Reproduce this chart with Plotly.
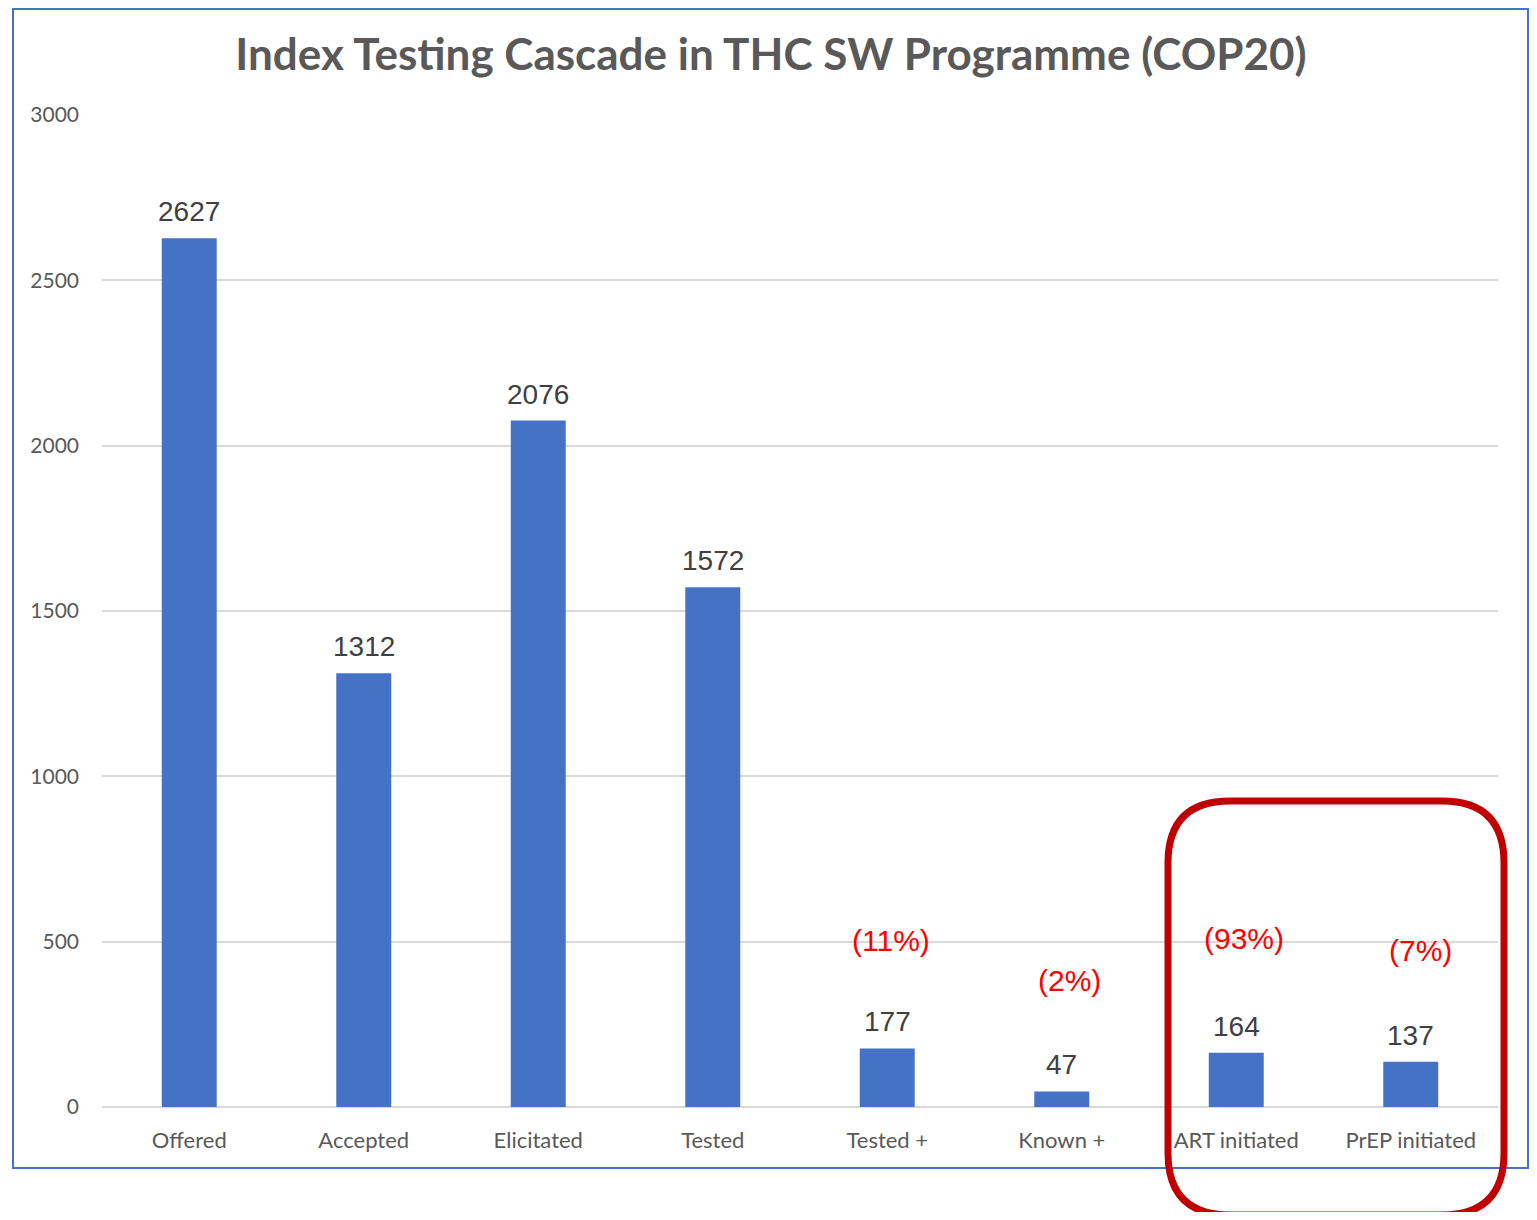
import plotly.graph_objects as go

categories = ["Offered", "Accepted", "Elicitated", "Tested", "Tested +", "Known +", "ART initiated", "PrEP initiated"]
values = [2627, 1312, 2076, 1572, 177, 47, 164, 137]
pct_categories = ["Tested +", "Known +", "ART initiated", "PrEP initiated"]
pct_labels = ["(11%)", "(2%)", "(93%)", "(7%)"]
pct_label_y = [505, 384, 511, 472]
pct_xshift = [4, 8, 8, 10]
y_ticks = [0, 500, 1000, 1500, 2000, 2500, 3000]

OFF = 8  # page body margin
W, H = 1537 - 2 * OFF, 1220 - 2 * OFF
L, R, T, B = 102, 1498, 115, 1107  # plot area in page pixels


def px(x):
    return (x - L) / (R - L)


def py(y):
    return (B - y) / (B - T)


fig = go.Figure()
fig.add_trace(go.Bar(
    x=categories, y=values, marker=dict(color="#4472C4", line=dict(width=0)),
    width=0.315, hoverinfo="x+y",
))

annotations = []
for c, v in zip(categories, values):
    annotations.append(dict(
        x=c, y=v, xref="x", yref="y", text=str(v), showarrow=False,
        yanchor="bottom", yshift=9,
        font=dict(family="Liberation Sans, Arial", size=28, color="#404040"),
    ))
for c, t, y, xs in zip(pct_categories, pct_labels, pct_label_y, pct_xshift):
    annotations.append(dict(
        x=c, y=y, xref="x", yref="y", text=t, showarrow=False,
        yanchor="middle", xshift=xs,
        font=dict(family="Liberation Sans, Arial", size=30, color="#FF0000"),
    ))

# rounded highlight rectangle
x0, x1, y0, y1, r = 1168, 1504, 801, 1215, 62
path = (
    f"M {px(x0 + r)},{py(y0)} L {px(x1 - r)},{py(y0)} "
    f"Q {px(x1)},{py(y0)} {px(x1)},{py(y0 + r)} "
    f"L {px(x1)},{py(y1 - r)} Q {px(x1)},{py(y1)} {px(x1 - r)},{py(y1)} "
    f"L {px(x0 + r)},{py(y1)} Q {px(x0)},{py(y1)} {px(x0)},{py(y1 - r)} "
    f"L {px(x0)},{py(y0 + r)} Q {px(x0)},{py(y0)} {px(x0 + r)},{py(y0)} Z"
)

shapes = [
    dict(type="rect", xref="paper", yref="paper", x0=px(13), x1=px(1528), y0=py(1168), y1=py(9),
         line=dict(color="#4472C4", width=2), fillcolor="rgba(0,0,0,0)", layer="below"),
    dict(type="path", xref="paper", yref="paper", path=path,
         line=dict(color="#C00000", width=7), fillcolor="rgba(0,0,0,0)"),
]

fig.update_layout(
    width=W, height=H,
    margin=dict(l=L - OFF, r=W - (R - OFF), t=T - OFF, b=H - (B - OFF), pad=0),
    paper_bgcolor="white", plot_bgcolor="white",
    showlegend=False,
    title=dict(
        text="<b>Index Testing Cascade in THC SW Programme (COP20)</b>",
        x=px(771), xanchor="center", xref="paper", y=1 - (55 - OFF) / H, yanchor="middle",
        font=dict(family="Lato, Open Sans", size=44, color="#595959"),
    ),
    xaxis=dict(
        showgrid=False, showline=False, zeroline=False, ticks="",
        tickfont=dict(family="Lato, Open Sans", size=22, color="#595959"),
        ticklabelstandoff=18,
    ),
    yaxis=dict(
        range=[0, 3000], tickvals=y_ticks, showgrid=True, gridcolor="#D9D9D9", gridwidth=2,
        zeroline=True, zerolinecolor="#D9D9D9", zerolinewidth=2, showline=False, ticks="",
        tickfont=dict(family="Lato, Open Sans", size=21, color="#595959"),
        ticklabelstandoff=22,
    ),
    annotations=annotations,
    shapes=shapes,
    bargap=0.685,
)

fig.write_html("out.html")
